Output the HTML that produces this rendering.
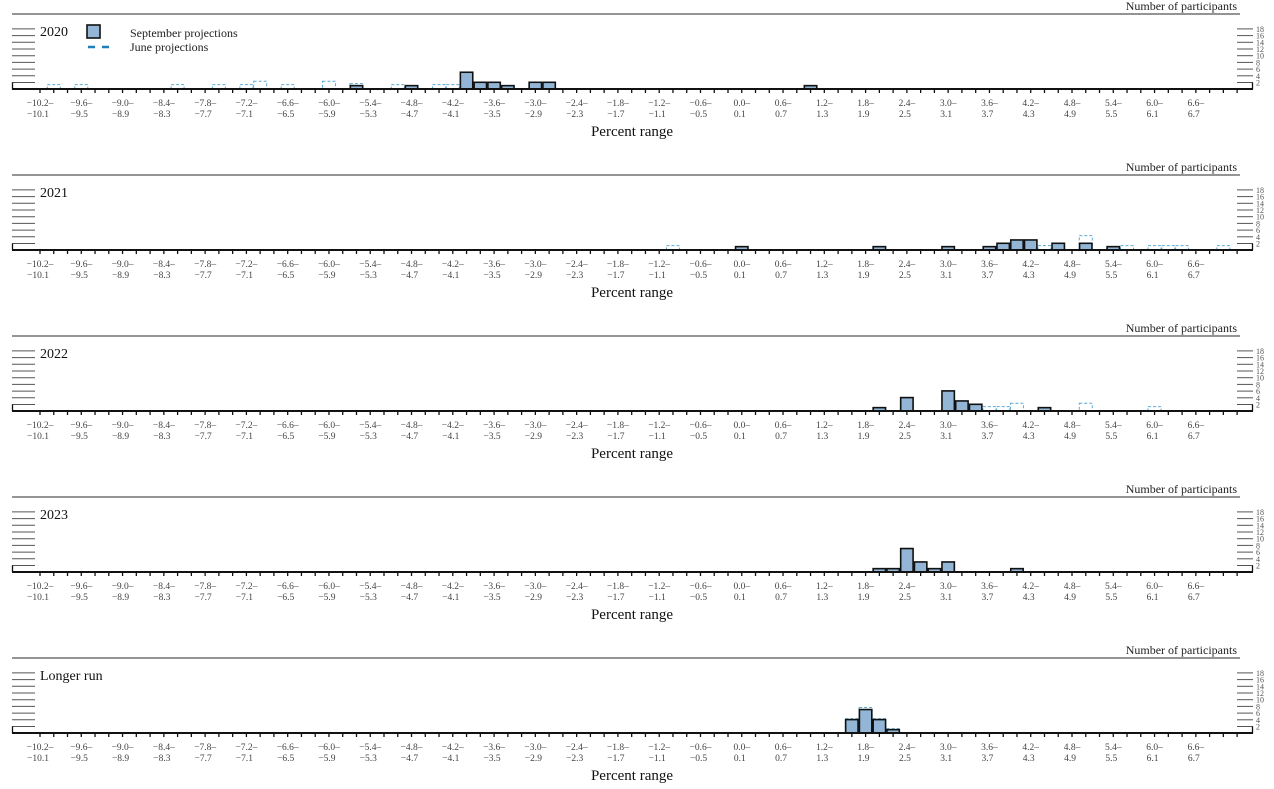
<!DOCTYPE html>
<html><head><meta charset="utf-8"><style>
html,body{margin:0;padding:0;background:#fff;}
svg{display:block;font-family:"Liberation Serif",serif;}
</style></head><body>
<svg id="chart" width="1274" height="789" viewBox="0 0 1274 789" xmlns="http://www.w3.org/2000/svg"></svg>
<script>
const panelTitles = ["2020","2021","2022","2023","Longer run"];
const binStarts = [];
for (let i = 0; i <= 87; i++) binStarts.push(Math.round((-10.2 + i*0.2)*10)/10);
const labelBins = [-10.2,-9.6,-9.0,-8.4,-7.8,-7.2,-6.6,-6.0,-5.4,-4.8,-4.2,-3.6,-3.0,-2.4,-1.8,-1.2,-0.6,0.0,0.6,1.2,1.8,2.4,3.0,3.6,4.2,4.8,5.4,6.0,6.6];
const yTicks = [2,4,6,8,10,12,14,16,18];
// September projections: [bin start, count]
const sep2020 = [[-5.6,1],[-4.8,1],[-4.0,5],[-3.8,2],[-3.6,2],[-3.4,1],[-3.0,2],[-2.8,2],[1.0,1]];
const sep2021 = [[0.0,1],[2.0,1],[3.0,1],[3.6,1],[3.8,2],[4.0,3],[4.2,3],[4.6,2],[5.0,2],[5.4,1]];
const sep2022 = [[2.0,1],[2.4,4],[3.0,6],[3.2,3],[3.4,2],[4.4,1]];
const sep2023 = [[2.0,1],[2.2,1],[2.4,7],[2.6,3],[2.8,1],[3.0,3],[4.0,1]];
const sepLR = [[1.6,4],[1.8,7],[2.0,4],[2.2,1]];
// June projections
const jun2020 = [[-10.0,1],[-9.6,1],[-8.2,1],[-7.6,1],[-7.2,1],[-7.0,2],[-6.6,1],[-6.0,2],[-5.6,1.3],[-5.0,1],[-4.4,1],[-4.2,1],[-4.0,2]];
const jun2021 = [[-1.0,1],[4.0,1],[4.4,1],[4.6,1],[5.0,4],[5.6,1],[6.0,1],[6.2,1],[6.4,1],[7.0,1]];
const jun2022 = [[2.4,2],[3.0,4],[3.2,1],[3.6,1],[3.8,1],[4.0,2],[5.0,2],[6.0,1]];
const jun2023 = [];
const junLR = [[1.6,4],[1.8,7.3],[2.0,4],[2.2,1]];
const sepData = [sep2020,sep2021,sep2022,sep2023,sepLR];
const junData = [jun2020,jun2021,jun2022,jun2023,junLR];

const svg = document.getElementById('chart');
const NS = 'http://www.w3.org/2000/svg';
const BIN_W = 13.76, X0 = 40, UNIT = 3.35, PANEL_H = 161;
function xc(v){ return X0 + (v + 10.2)/0.2*BIN_W; }
function yh(n){ return n*UNIT; }
function mk(tag, attrs, parent){
  const e = document.createElementNS(NS, tag);
  for (const k in attrs) e.setAttribute(k, attrs[k]);
  (parent||svg).appendChild(e); return e;
}
function fmt(v){ return (v<0?'\u2212':'') + Math.abs(v).toFixed(1); }

panelTitles.forEach((title, p) => {
  const top = 14 + p*PANEL_H;
  const base = 89 + p*PANEL_H;
  const g = mk('g', {});
  
  
  const hl = mk('line', {x1:12,x2:1240,y1:top,y2:top,stroke:'#555','stroke-width':1.3}, g);
  
  
  const np = mk('text', {x:1237,y:top-4,'text-anchor':'end','font-size':12,fill:'#222'}, g);
  np.textContent = 'Number of participants';
  
  
  const tt = mk('text', {x:40,y:top+22,'font-size':14,fill:'#111'}, g);
  tt.textContent = title;
  
  
  // y ticks
  yTicks.forEach(t => {
    const y = base - 6.5 - (t-2)/2*6.7;
    const l1 = mk('line', {x1:12,x2:35,y1:y,y2:y,stroke:'#555','stroke-width':1}, g);
    
    
    const l2 = mk('line', {x1:1237,x2:1253,y1:y,y2:y,stroke:'#555','stroke-width':1}, g);
    
    
    const tl = mk('text', {x:1256,y:y+3,'font-size':8,fill:'#555'}, g);
    tl.textContent = t;
    
    
  });
  mk('line', {x1:12.5,x2:12.5,y1:base,y2:base-6.5,stroke:'#111','stroke-width':1.3}, g);
  mk('line', {x1:1252.5,x2:1252.5,y1:base,y2:base-6.5,stroke:'#111','stroke-width':1.3}, g);
  // June dashed bars
  junData[p].forEach(([v,n]) => {
    const r = mk('rect', {x:xc(v)-6.5,y:base-yh(n)-1,width:13,height:yh(n)+1,fill:'none',stroke:'#5aaad6','stroke-width':1,'stroke-dasharray':'3,2'}, g);
    
    
  });
  // September bars
  sepData[p].forEach(([v,n]) => {
    const r = mk('rect', {x:xc(v)-6.2,y:base-yh(n),width:12.4,height:yh(n),fill:'#94b6d6',stroke:'#111','stroke-width':1.6}, g);
    
    
  });
  // baseline
  const bl = mk('line', {x1:12,x2:1253,y1:base,y2:base,stroke:'#111','stroke-width':2}, g);
  
  
  binStarts.forEach(v => {
    const x = xc(v);
    const tk = mk('line', {x1:x,x2:x,y1:base,y2:base+4,stroke:'#111','stroke-width':1.3}, g);
    
    
  });
  labelBins.forEach(v => {
    const x = xc(v);
    const t1 = mk('text', {x:x,y:base+17,'text-anchor':'middle','font-size':9.5,fill:'#444'}, g);
    t1.textContent = fmt(v) + '\u2013';
    
    
    const t2 = mk('text', {x:x-2,y:base+28,'text-anchor':'middle','font-size':9.5,fill:'#444'}, g);
    t2.textContent = fmt(Math.round((v+0.1)*10)/10);
    
    
  });
  const xt = mk('text', {x:632,y:base+47,'text-anchor':'middle','font-size':15,fill:'#111'}, g);
  xt.textContent = 'Percent range';
  
  
});
// legend
const lg = mk('g', {});


const ls = mk('rect', {x:87,y:25,width:13,height:13,fill:'#94b6d6',stroke:'#111','stroke-width':1.6}, lg);


const lt1 = mk('text', {x:130,y:37,'font-size':12,fill:'#222'}, lg);
lt1.textContent = 'September projections';


const ld = mk('line', {x1:88,x2:116,y1:47,y2:47,stroke:'#1f7fba','stroke-width':2.5,'stroke-dasharray':'7,7'}, lg);


const lt2 = mk('text', {x:130,y:51,'font-size':12,fill:'#222'}, lg);
lt2.textContent = 'June projections';


</script>
</body></html>
